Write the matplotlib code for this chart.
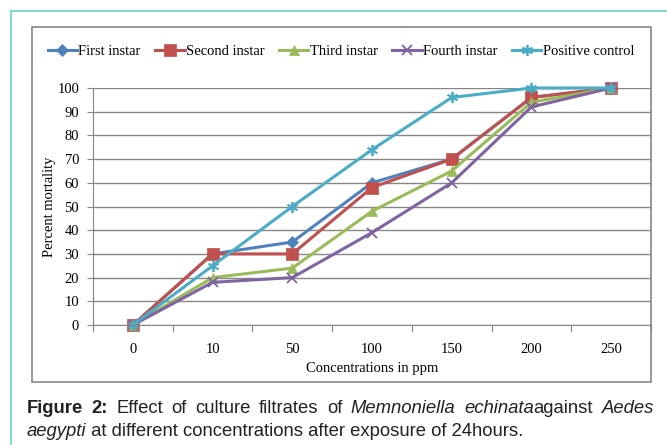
import matplotlib
matplotlib.use("Agg")
import matplotlib.pyplot as plt
from matplotlib.lines import Line2D
from matplotlib.patches import Rectangle
import numpy as np

concentrations = ["0", "10", "50", "100", "150", "200", "250"]
first_instar = [0, 30, 35, 60, 70, 96, 100]
second_instar = [0, 30, 30, 58, 70, 96, 100]
third_instar = [0, 20, 24, 48, 65, 94, 100]
fourth_instar = [0, 18, 20, 39, 60, 92, 100]
positive_control = [0, 25, 50, 74, 96, 100, 100]

series = [
    ("First instar", first_instar, "#4F81BD", "D", 6),
    ("Second instar", second_instar, "#C0504D", "s", 8),
    ("Third instar", third_instar, "#9BBB59", "^", 7.5),
    ("Fourth instar", fourth_instar, "#8064A2", "x", 7),
    ("Positive control", positive_control, "#4BACC6", (6, 2, 0), 8),
]

W, H = 667, 445
serif = "Liberation Serif"
grey = "#868686"
fs = 10.5

fig = plt.figure(figsize=(W / 100, H / 100), dpi=100)


def fx(px):
    return px / W


def fy(py):
    return 1 - py / H


# outer teal frame (top and left edges)
fig.add_artist(Line2D([fx(11), 1], [fy(11), fy(11)], color="#79d6c6", lw=1.3))
fig.add_artist(Line2D([fx(11), fx(11)], [fy(11), 0], color="#79d6c6", lw=1.3))
# chart box
fig.add_artist(Rectangle((fx(32), fy(382)), fx(651) - fx(32), fy(27) - fy(382),
                         fill=False, edgecolor=grey, lw=1.2))

ax = fig.add_axes([fx(93), fy(325), fx(651) - fx(93), fy(88) - fy(325)])
x = np.arange(len(concentrations))
for name, values, color, marker, size in series:
    ax.plot(x, values, color=color, lw=2.2, marker=marker, markersize=size,
            markeredgewidth=1.3 if marker in ("x", (6, 2, 0)) else 0.5,
            markeredgecolor=color, label=name, clip_on=False)

ax.set_xlim(-0.5, len(concentrations) - 0.5)
ax.set_ylim(0, 100)
ax.set_yticks(np.arange(0, 101, 10))
ax.set_yticklabels([str(v) for v in range(0, 101, 10)], fontfamily=serif, fontsize=fs)
ax.set_xticks(np.arange(-0.5, len(concentrations), 1))
ax.set_xticklabels([])
ax.set_xticks(x, minor=True)
ax.set_xticklabels(concentrations, minor=True, fontfamily=serif, fontsize=fs)
ax.tick_params(axis="x", which="major", length=5, color=grey, direction="out")
ax.tick_params(axis="x", which="minor", length=0, pad=13)
ax.tick_params(axis="y", length=4, color=grey, pad=6)
ax.grid(axis="y", color=grey, lw=1.0)
ax.set_axisbelow(True)
for side in ("top", "right"):
    ax.spines[side].set_visible(False)
for side in ("left", "bottom"):
    ax.spines[side].set_color(grey)
ax.set_xlabel("Concentrations in ppm", fontfamily=serif, fontsize=fs, labelpad=4)
ax.set_ylabel("Percent mortality", fontfamily=serif, fontsize=fs, labelpad=1)

fig.legend(loc="center", bbox_to_anchor=(fx(341), fy(51)), ncol=5, frameon=False,
           prop={"family": serif, "size": fs}, handlelength=2.0, handletextpad=0.1,
           columnspacing=1.0, borderaxespad=0)

# caption: second line sets the font size, first line is justified
renderer = fig.canvas.get_renderer()
left, right, base1, base2 = 27, 654, 413, 436
line2_end = 528
cap = dict(fontfamily="Liberation Sans", fontsize=12, color="#222222", va="baseline")
t_a = fig.text(fx(left), fy(base2), "aegypti", style="italic", **cap)
t_b = fig.text(0, fy(base2), " at different concentrations after exposure of 24hours.", **cap)
w2 = t_a.get_window_extent(renderer).width + t_b.get_window_extent(renderer).width
size = 12 * (line2_end - left) / w2
cap["fontsize"] = size
t_a.set_fontsize(size)
t_b.set_fontsize(size)
t_b.set_x(fx(left + t_a.get_window_extent(renderer).width))

line1 = [("Figure", "bold", "normal"), ("2:", "bold", "normal"), ("Effect", "normal", "normal"),
         ("of", "normal", "normal"), ("culture", "normal", "normal"),
         ("filtrates", "normal", "normal"), ("of", "normal", "normal"),
         ("Memnoniella", "normal", "italic"), ["echinata", "against"],
         ("Aedes", "normal", "italic")]
words = []
for item in line1:
    if isinstance(item, list):
        t1 = fig.text(0, fy(base1), item[0], style="italic", **cap)
        t2 = fig.text(0, fy(base1), item[1], **cap)
        words.append([t1, t2])
    else:
        words.append([fig.text(0, fy(base1), item[0], weight=item[1], style=item[2], **cap)])
widths = [[t.get_window_extent(renderer).width for t in grp] for grp in words]
total = sum(sum(w) for w in widths)
gap = (right - left - total) / (len(words) - 1)
pos = left
for grp, ws in zip(words, widths):
    for t, w in zip(grp, ws):
        t.set_x(fx(pos))
        pos += w
    pos += gap

fig.savefig("out.png", dpi=100)
